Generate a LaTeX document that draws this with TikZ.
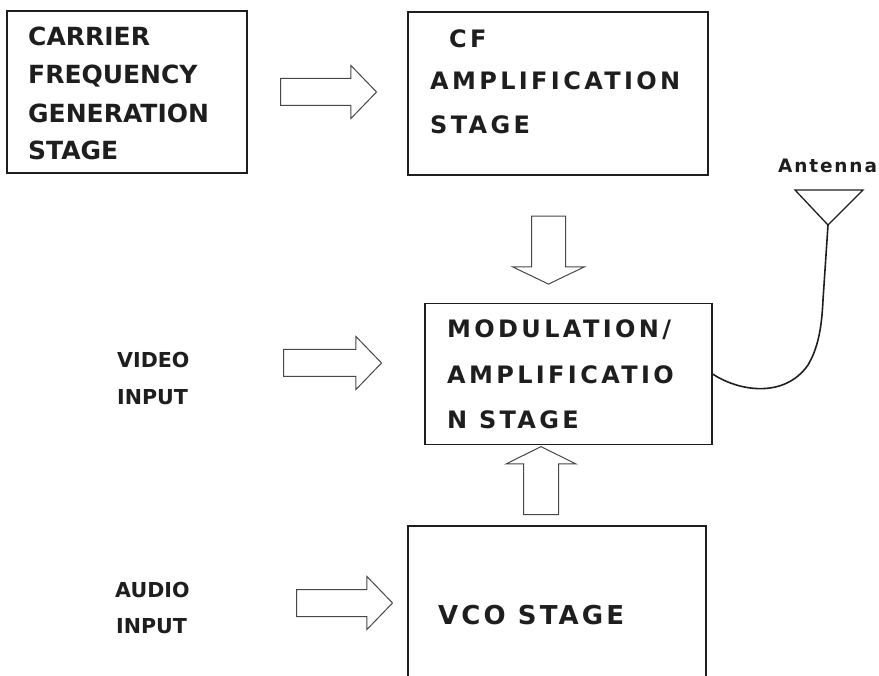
\documentclass[tikz,border=0pt]{standalone}
\usepackage{fontspec}
\setmainfont{DejaVu Sans}
\newfontfamily\wideB{DejaVu Sans}[LetterSpace=14]
\newfontfamily\vcoB{DejaVu Sans}[LetterSpace=12]
\newfontfamily\antB{DejaVu Sans}[LetterSpace=10]
\usetikzlibrary{shapes.arrows}
\definecolor{ink}{HTML}{1E1E1E}
\begin{document}
\begin{tikzpicture}[x=1pt,y=-1pt,
  stagebox/.style={draw=ink, line width=1.2pt, inner sep=0pt},
  boxtxt/.style={anchor=base west, inner sep=0pt, text=ink},
  barrow/.style={single arrow, draw=black!72, line width=1pt, fill=white,
    inner xsep=0pt, minimum width=0pt, single arrow head indent=0pt},
  harrow/.style={barrow, inner ysep=13pt, single arrow head extend=13pt,
    single arrow tip angle=92, minimum height=96pt}
]
\useasboundingbox (0,0) rectangle (879,676);
\clip (0,0) rectangle (879,676);

% boxes
\node[stagebox, minimum width=240pt, minimum height=162pt] (cfg) at (127,92) {};
\node[stagebox, minimum width=300pt, minimum height=163pt] (cfa) at (558,93.5) {};
\node[stagebox, minimum width=287pt, minimum height=141pt] (mod) at (568.5,374) {};
\node[stagebox, minimum width=298pt, minimum height=174pt] (vco) at (557,613) {};

% box texts
\begin{scope}[every node/.style={boxtxt, font=\fontsize{25}{25}\selectfont\bfseries}]
\node (cfg1) at (28,46) {CARRIER};
\node (cfg2) at (28,84) {FREQUENCY};
\node (cfg3) at (28,123) {GENERATION};
\node (cfg4) at (28,160) {STAGE};
\end{scope}
\begin{scope}[every node/.style={boxtxt, font=\wideB\fontsize{24}{24}\selectfont\bfseries}]
\node (cfa1) at (449,48) {CF};
\node (cfa2) at (430,90) {AMPLIFICATION};
\node (cfa3) at (430,134) {STAGE};
\node (mod1) at (447,338) {MODULATION/};
\node (mod2) at (447,384) {AMPLIFICATIO};
\node (mod3) at (447,429) {N STAGE};
\end{scope}
\node[boxtxt, font=\vcoB\fontsize{26}{26}\selectfont\bfseries] (vcot) at (438,624) {VCO STAGE};

% input labels
\begin{scope}[every node/.style={boxtxt, font=\fontsize{20.6}{20}\selectfont\bfseries}]
\node (vid1) at (117,368) {VIDEO};
\node (vid2) at (117,405) {INPUT};
\node (aud1) at (115,597) {AUDIO};
\node (aud2) at (116,633) {INPUT};
\end{scope}

% block arrows
\node[harrow] (a1) at (322,92) {};
\node[harrow, minimum height=98pt] (a2) at (326,363) {};
\node[harrow] (a3) at (338,603) {};
\node[barrow, rotate=-90, inner ysep=16.5pt, single arrow head extend=19pt,
  single arrow tip angle=128.8, minimum height=68pt] (a4) at (548.5,246) {};
\node[barrow, rotate=90, inner ysep=17pt, single arrow head extend=17.5pt,
  single arrow tip angle=127.5, minimum height=68pt] (a5) at (541,485) {};

% antenna
\node[boxtxt, font=\antB\fontsize{18.5}{18}\selectfont\bfseries] (antl) at (778,173) {Antenna};
\coordinate (tl) at (795,190);
\coordinate (tr) at (863,190);
\coordinate (apex) at (828,225);
\draw[ink, line width=1.3pt, line join=miter] (tl) -- (tr) -- (apex) -- cycle;
\draw[ink, line width=1.6pt] (mod.east) .. controls (740,392) and (785,398) .. (808,365)
  .. controls (820,345) and (822,320) .. (823,300) -- (apex);
\end{tikzpicture}
\end{document}
